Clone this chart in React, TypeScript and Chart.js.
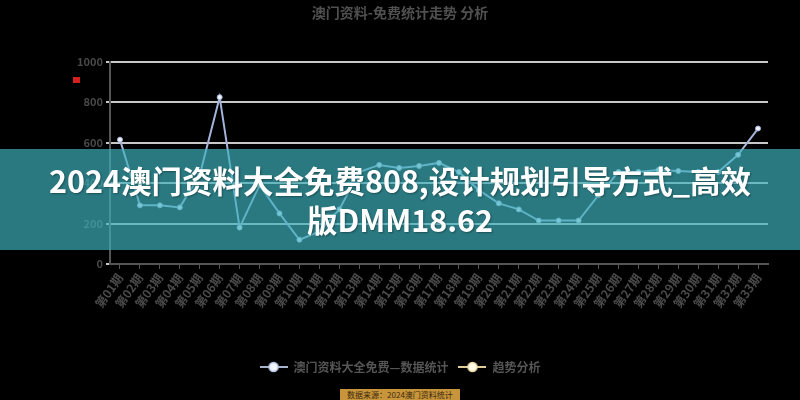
import React, { useEffect, useRef } from 'react';
import { Chart, registerables } from 'chart.js';

Chart.register(...registerables);

const categories = [
  '第01期', '第02期', '第03期', '第04期', '第05期', '第06期', '第07期', '第08期', '第09期', '第10期', '第11期',
  '第12期', '第13期', '第14期', '第15期', '第16期', '第17期', '第18期', '第19期', '第20期', '第21期', '第22期',
  '第23期', '第24期', '第25期', '第26期', '第27期', '第28期', '第29期', '第30期', '第31期', '第32期', '第33期',
];

const seriesA = [
  615, 290, 290, 280, 440, 825, 180, 390, 250, 120, 160,
  270, 455, 490, 475, 485, 500, 455, 365, 300, 270, 215,
  215, 215, 340, 455, 455, 465, 460, 455, 455, 540, 670,
];

const seriesB: (number | null)[] = [];

const yTicks = [0, 200, 400, 600, 800, 1000];

const titleText = '澳门资料-免费统计走势 分析';
const seriesALabel = '澳门资料大全免费—数据统计';
const seriesBLabel = '趋势分析';
const bannerLine1 = '2024澳门资料大全免费808,设计规划引导方式_高效';
const bannerLine2 = '版DMM18.62';
const footerText = '数据来源：2024澳门资料统计';

const FONT = "'Noto Sans CJK SC', 'Noto Sans', sans-serif";

function legendIcon(line: string, fill: string, stroke: string) {
  const c = document.createElement('canvas');
  c.width = 28;
  c.height = 12;
  const ctx = c.getContext('2d')!;
  ctx.strokeStyle = line;
  ctx.lineWidth = 2;
  ctx.beginPath();
  ctx.moveTo(0, 6);
  ctx.lineTo(28, 6);
  ctx.stroke();
  ctx.beginPath();
  ctx.arc(14, 6, 4.5, 0, Math.PI * 2);
  ctx.fillStyle = fill;
  ctx.fill();
  ctx.lineWidth = 1.5;
  ctx.strokeStyle = stroke;
  ctx.stroke();
  return c;
}

export default function App() {
  const ref = useRef<HTMLCanvasElement | null>(null);

  useEffect(() => {
    if (!ref.current) return;
    const icons = [
      legendIcon('#a8b4cc', '#f4f7ff', '#b8c6e6'),
      legendIcon('#e0cc9a', '#fffbe8', '#ecd9a6'),
    ];
    const chart = new Chart(ref.current, {
      type: 'line',
      data: {
        labels: categories,
        datasets: [
          {
            label: seriesALabel,
            data: seriesA,
            borderColor: '#a3b3d9',
            backgroundColor: '#a3b3d9',
            borderWidth: 2,
            pointRadius: 2.5,
            pointBackgroundColor: '#eef2ff',
            pointBorderColor: '#a3b3d9',
            pointBorderWidth: 1,
            tension: 0,
          },
          {
            label: seriesBLabel,
            data: seriesB,
            borderColor: '#e0cc9a',
            backgroundColor: '#e0cc9a',
            borderWidth: 2,
          },
        ],
      },
      options: {
        animation: false,
        responsive: false,
        maintainAspectRatio: false,
        layout: { padding: { left: 0, right: 0, top: 0, bottom: 17 } },
        plugins: {
          title: {
            display: true,
            text: titleText,
            color: '#505050',
            font: { family: FONT, size: 14, weight: 'bold' },
            padding: { top: 4, bottom: 41 },
          },
          legend: {
            position: 'bottom',
            labels: {
              color: '#555',
              font: { family: FONT, size: 12, weight: 'bold' },
              usePointStyle: true,
              pointStyleWidth: 28,
              boxHeight: 12,
              padding: 10,
              generateLabels: (ch: any) => {
                const base = Chart.defaults.plugins.legend.labels.generateLabels(ch);
                return base.map((l: any, i: number) => ({ ...l, pointStyle: icons[i], fontColor: '#555' }));
              },
            },
          },
          tooltip: { enabled: false },
        },
        scales: {
          x: {
            offset: true,
            grid: { display: true, drawOnChartArea: false, drawTicks: true, tickLength: 5, color: '#555' },
            border: { color: '#555', width: 2 },
            ticks: {
              color: '#4a4a4a',
              font: { family: FONT, size: 12, weight: 'bold' },
              minRotation: 55,
              maxRotation: 55,
              autoSkip: false,
              padding: 2,
            },
            afterFit: (s: any) => {
              s.height = 87;
            },
          },
          y: {
            min: 0,
            max: 1000,
            afterBuildTicks: (s: any) => {
              s.ticks = yTicks.map((v) => ({ value: v }));
            },
            grid: { color: '#c8c8c8', lineWidth: 2, drawTicks: true, tickLength: 4 },
            border: { color: '#555', width: 2 },
            ticks: {
              color: '#4a4a4a',
              font: { family: FONT, size: 11, weight: 'bold' },
              padding: 3,
              callback: (v: any) => String(v),
            },
            afterFit: (s: any) => {
              s.width = 110;
            },
          },
          yRight: {
            position: 'right',
            display: true,
            min: 0,
            max: 1000,
            grid: { display: false, drawTicks: false },
            border: { display: false },
            ticks: { display: false },
            afterFit: (s: any) => {
              s.width = 32;
            },
          },
        },
      },
    });
    return () => chart.destroy();
  }, []);

  return (
    <div style={{ position: 'fixed', left: 0, top: 0, width: 800, height: 400, background: '#000', overflow: 'hidden' }}>
      <canvas ref={ref} width={800} height={400} style={{ position: 'absolute', left: 0, top: 0 }} />
      <div style={{ position: 'absolute', left: 73, top: 77, width: 7, height: 6, background: '#d42020' }} />
      <div
        style={{
          position: 'absolute',
          left: 0,
          top: 149,
          width: 800,
          height: 101,
          background: 'rgba(62,178,190,0.68)',
          display: 'flex',
          flexDirection: 'column',
          alignItems: 'center',
          justifyContent: 'center',
          color: '#fff',
          fontFamily: FONT,
          fontWeight: 'bold',
          fontSize: 30.5,
          lineHeight: '39px',
          textAlign: 'center',
          textShadow: '1px 1px 2px rgba(0,0,0,0.35)',
        }}
      >
        <div style={{ whiteSpace: 'nowrap' }}>{bannerLine1}</div>
        <div style={{ whiteSpace: 'nowrap' }}>{bannerLine2}</div>
      </div>
      <div
        style={{
          position: 'absolute',
          left: 340,
          top: 389,
          width: 120,
          height: 11,
          background: '#c8953a',
          color: '#3a2a10',
          fontFamily: FONT,
          fontSize: 8,
          lineHeight: '11px',
          textAlign: 'center',
          whiteSpace: 'nowrap',
          overflow: 'hidden',
        }}
      >
        {footerText}
      </div>
    </div>
  );
}
